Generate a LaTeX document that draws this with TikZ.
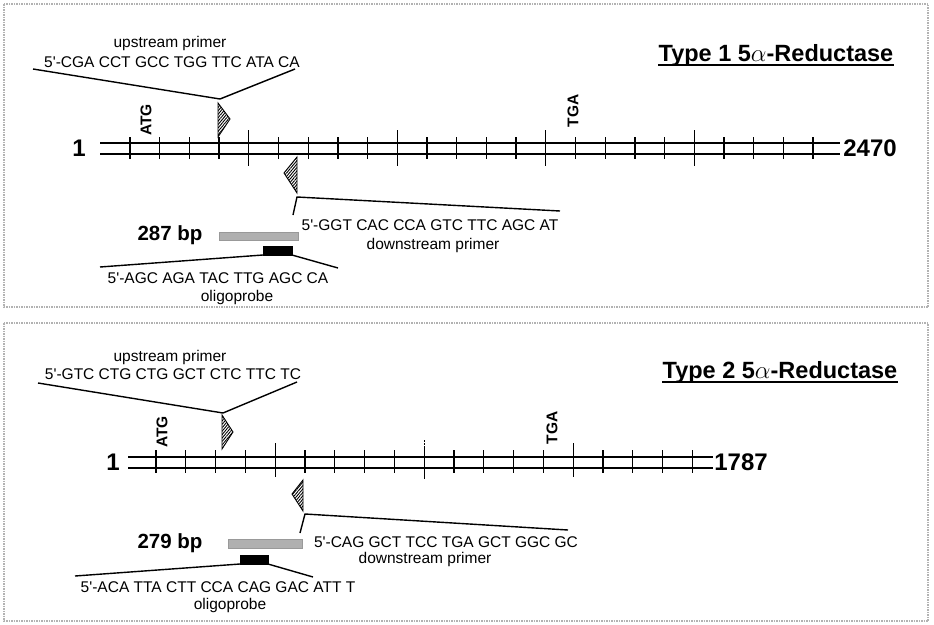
\documentclass[tikz,border=0pt]{standalone}
\usepackage{fontspec}
\setmainfont{Liberation Sans}[Ligatures=TeXOff]
\usetikzlibrary{patterns.meta}
\begin{document}
\begin{tikzpicture}[x=1pt,y=-1pt,
  frame/.style={draw=gray!60, line width=1.3pt, dash pattern=on 1.5pt off 1pt},
  strand/.style={line width=2.8pt},
  tickmark/.style={line width=1.3pt},
  conn/.style={line width=1.4pt},
  seq/.style={font=\fontsize{15.5}{18}\selectfont, inner sep=0pt},
  codon/.style={font=\bfseries\fontsize{15.5}{18}\selectfont, rotate=90, inner sep=0pt},
  endnum/.style={font=\bfseries\fontsize{24}{28}\selectfont, inner sep=0pt},
  bplabel/.style={font=\bfseries\fontsize{20.5}{24}\selectfont, inner sep=0pt},
  titletext/.style={font=\bfseries\fontsize{23.5}{28}\selectfont, inner sep=0pt},
  hatch/.style={draw, line width=0.9pt, pattern={Lines[angle=50,distance=2.2pt,line width=0.9pt]}},
  product/.style={fill=gray!62, draw=gray!80, line width=0.6pt},
  probe/.style={fill=black, draw=black},
]
\useasboundingbox (0,0) rectangle (934,624);

% ---------------- Panel 1 ----------------
\draw[frame] (4,4) rectangle (928,307);
\node[titletext] (t1) at (776,55) {Type 1 5$\alpha$-Reductase};
\draw[line width=1.6pt] ([yshift=-4pt]t1.base west) -- ([yshift=-4pt]t1.base east);

\node[seq] (p1uplab) at (170,43) {upstream primer};
\node[seq] (p1upseq) at (172,62) {5'-CGA CCT GCC TGG TTC ATA CA};
\coordinate (p1ul) at (33,69);
\coordinate (p1ur) at (295,69);
\coordinate (p1apex) at (220,99);
\draw[conn] (p1ul) -- (p1apex) -- (p1ur);
\draw[hatch] (218,103) -- (230,119) -- (218,137) -- cycle;

\node[codon] (p1atg) at (146,120) {ATG};
\node[codon] (p1tga) at (573,111) {TGA};

\coordinate (s1a) at (100,143); \coordinate (s1b) at (840,143);
\coordinate (s1c) at (100,154); \coordinate (s1d) at (840,154);
\draw[strand] (s1a) -- (s1b);
\draw[strand] (s1c) -- (s1d);
\foreach \x in {130,159.7,189.4,219.1,278.5,308.2,337.9,367.6,427,456.7,486.4,516.1,575.5,605.2,634.9,664.6,724,753.7,783.4,813.1}
  \draw[tickmark] (\x,137) -- (\x,159);
\foreach \x in {248.8,397.3,545.8,694.3}
  \draw[tickmark] (\x,130) -- (\x,166);
\node[endnum, anchor=east] (p1start) at (86,148) {1};
\node[endnum] (p1end) at (870,148) {2470};

\draw[hatch] (297,157) -- (284,173) -- (297,193) -- cycle;
\coordinate (p1dapex) at (297,197);
\coordinate (p1dl) at (293,215);
\coordinate (p1dr) at (560,211);
\draw[conn] (p1dl) -- (p1dapex) -- (p1dr);
\node[seq] (p1dnseq) at (430,225) {5'-GGT CAC CCA GTC TTC AGC AT};
\node[seq] (p1dnlab) at (433,245) {downstream primer};

\node[bplabel] (p1bp) at (170,235) {287 bp};
\draw[product] (219,232) rectangle (298,240);
\draw[probe] (263,246) rectangle (292,255);
\coordinate (p1ol) at (100,267);
\coordinate (p1obl) at (263,255);
\coordinate (p1obr) at (292,255);
\coordinate (p1or) at (338,268);
\draw[conn] (p1ol) -- (p1obl);
\draw[conn] (p1obr) -- (p1or);
\node[seq] (p1oseq) at (218,278) {5'-AGC AGA TAC TTG AGC CA};
\node[seq] (p1olab) at (237,297) {oligoprobe};

% ---------------- Panel 2 ----------------
\draw[frame] (4,323) rectangle (928,621);
\node[titletext] (t2) at (780,372) {Type 2 5$\alpha$-Reductase};
\draw[line width=1.6pt] ([yshift=-4pt]t2.base west) -- ([yshift=-4pt]t2.base east);

\node[seq] (p2uplab) at (170,357) {upstream primer};
\node[seq] (p2upseq) at (173,374) {5'-GTC CTG CTG GCT CTC TTC TC};
\coordinate (p2ul) at (38,383);
\coordinate (p2ur) at (297,382);
\coordinate (p2apex) at (223,413);
\draw[conn] (p2ul) -- (p2apex) -- (p2ur);
\draw[hatch] (222,415) -- (233,432) -- (222,449) -- cycle;

\node[codon] (p2atg) at (162,432) {ATG};
\node[codon] (p2tga) at (552,428) {TGA};

\coordinate (s2a) at (128,457); \coordinate (s2b) at (713,457);
\coordinate (s2c) at (128,468); \coordinate (s2d) at (713,468);
\draw[strand] (s2a) -- (s2b);
\draw[strand] (s2c) -- (s2d);
\foreach \x in {156,185.8,215.6,245.4,305,334.8,364.6,394.4,454,483.8,513.6,543.4,603,632.8,662.6,692.4}
  \draw[tickmark] (\x,450) -- (\x,473);
\foreach \x in {275.2,573.2}
  \draw[tickmark] (\x,443) -- (\x,477);
\draw[tickmark] (424.2,448) -- (424.2,479);
\draw[line width=1pt, dash pattern=on 1.5pt off 1.5pt] (424.2,440) -- (424.2,448);
\node[endnum, anchor=east] (p2start) at (120,462) {1};
\node[endnum] (p2end) at (741,462) {1787};

\draw[hatch] (303,480) -- (292,494) -- (303,511) -- cycle;
\coordinate (p2dapex) at (305,514);
\coordinate (p2dl) at (300,533);
\coordinate (p2dr) at (568,530);
\draw[conn] (p2dl) -- (p2dapex) -- (p2dr);
\node[seq] (p2dnseq) at (446,542) {5'-CAG GCT TCC TGA GCT GGC GC};
\node[seq] (p2dnlab) at (425,559) {downstream primer};

\node[bplabel] (p2bp) at (170,543) {279 bp};
\draw[product] (228,539) rectangle (302,548);
\draw[probe] (240,555) rectangle (268,564);
\coordinate (p2ol) at (75,576);
\coordinate (p2obl) at (240,564);
\coordinate (p2obr) at (268,564);
\coordinate (p2or) at (313,577);
\draw[conn] (p2ol) -- (p2obl);
\draw[conn] (p2obr) -- (p2or);
\node[seq] (p2oseq) at (218,587) {5'-ACA TTA CTT CCA CAG GAC ATT T};
\node[seq] (p2olab) at (230,605) {oligoprobe};
\end{tikzpicture}
\end{document}
